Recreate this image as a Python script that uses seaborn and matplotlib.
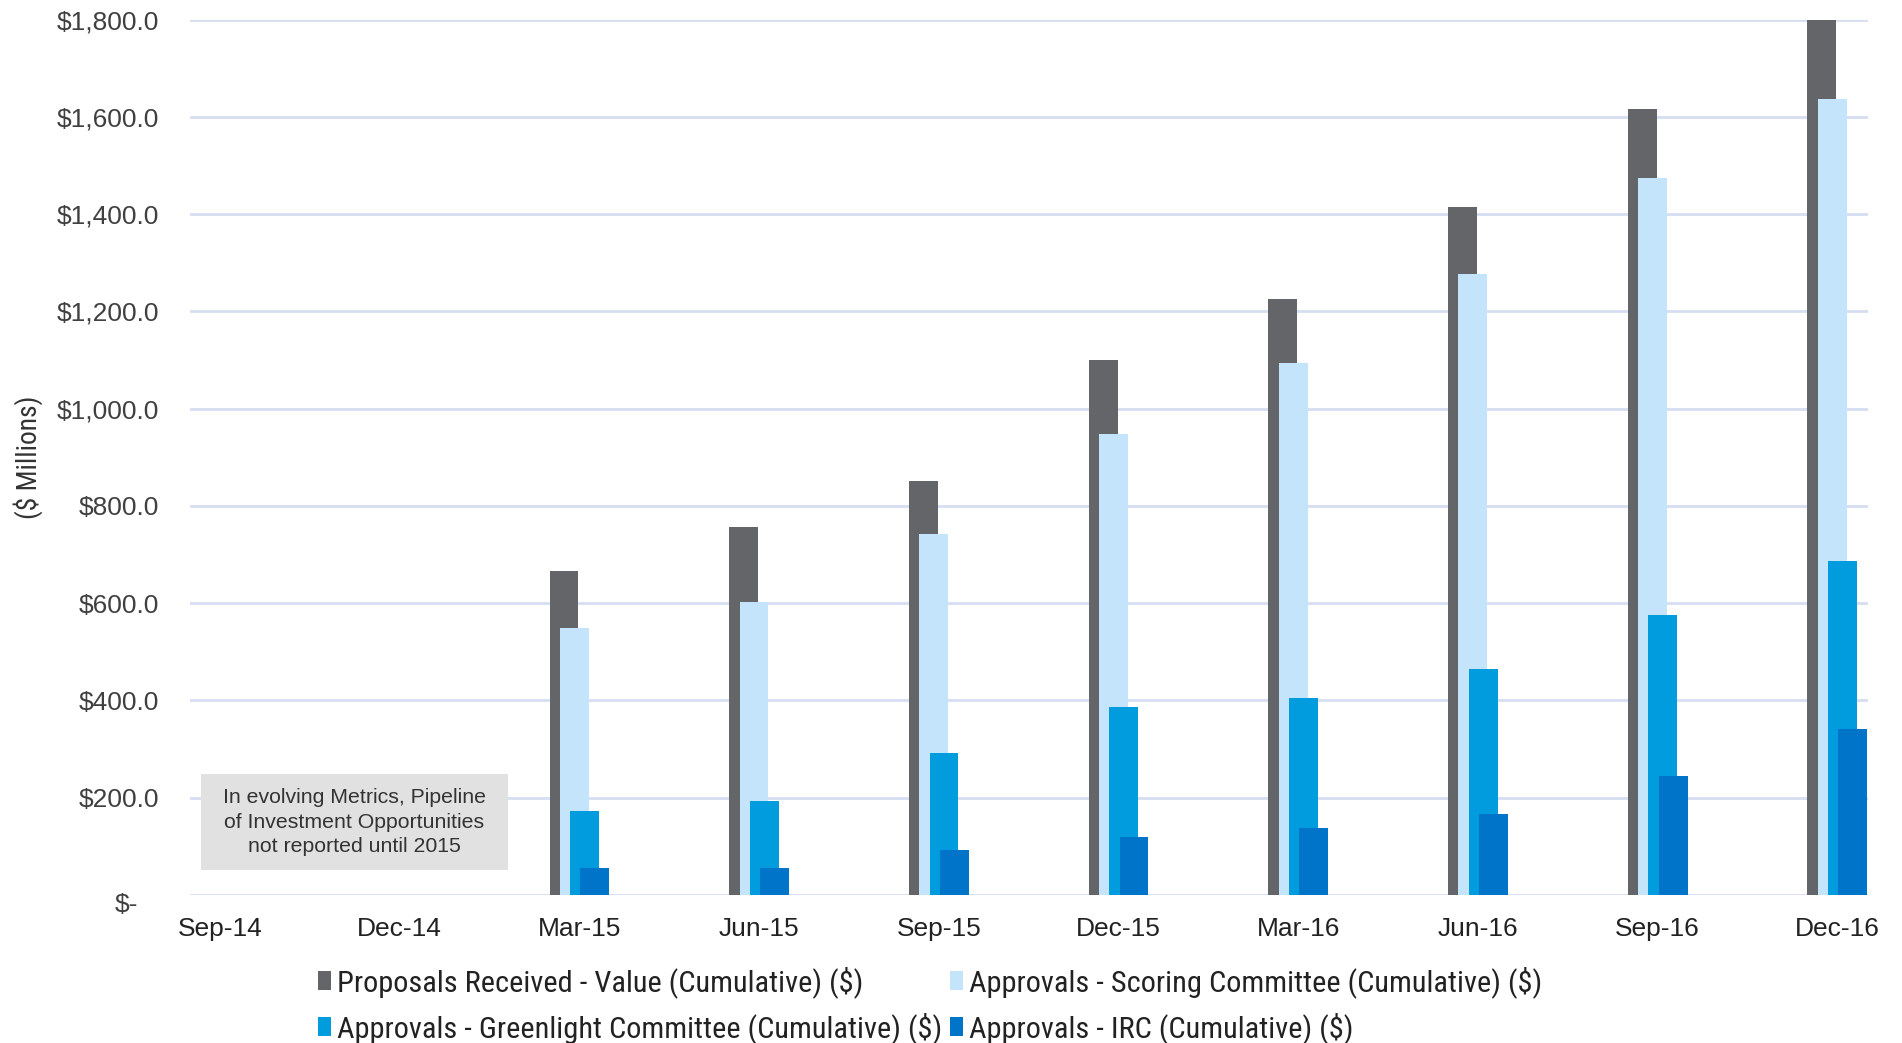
import matplotlib
matplotlib.use("Agg")
import matplotlib.pyplot as plt
import matplotlib.ticker as mticker
from matplotlib import font_manager as fm
from matplotlib.patches import Patch, Rectangle
import numpy as np
import pandas as pd
import seaborn as sns

# Quarter-end reporting dates
quarters = ["Sep-14", "Dec-14", "Mar-15", "Jun-15", "Sep-15",
            "Dec-15", "Mar-16", "Jun-16", "Sep-16", "Dec-16"]
# Pipeline metrics start at Mar-15 (index 2)
reported_idx = [2, 3, 4, 5, 6, 7, 8, 9]

proposals_received = [666, 756, 851, 1100, 1226, 1414, 1615, 1800]
scoring_committee = [549, 603, 743, 947, 1094, 1276, 1474, 1637]
greenlight_committee = [173, 194, 292, 387, 404, 465, 576, 687]
irc_approvals = [56, 56, 92, 120, 137, 167, 244, 342]

series_names = [
    "Proposals Received - Value (Cumulative) ($)",
    "Approvals - Scoring Committee (Cumulative) ($)",
    "Approvals - Greenlight Committee (Cumulative) ($)",
    "Approvals - IRC (Cumulative) ($)",
]
series_values = [proposals_received, scoring_committee,
                 greenlight_committee, irc_approvals]
series_colors = ["#636569", "#C4E4FC", "#009CDE", "#0074C8"]

y_ticks = [0, 200, 400, 600, 800, 1000, 1200, 1400, 1600, 1800]

note_text = ("In evolving Metrics, Pipeline\n"
             "of Investment Opportunities\n"
             "not reported until 2015")

sns.set_theme(style="white")
plt.rcParams["font.family"] = ["Liberation Sans", "DejaVu Sans"]

# Pick a narrow sans face for the legend and axis title when one exists
installed = {f.name for f in fm.fontManager.ttflist}
narrow_prop = None
for fam in ["Liberation Sans Narrow", "Arial Narrow", "Roboto Condensed",
            "Open Sans Condensed"]:
    if fam in installed:
        narrow_prop = fm.FontProperties(family=fam)
        break
if narrow_prop is None:
    cond = [f for f in fm.fontManager.ttflist
            if f.stretch in ("condensed", "semi-condensed", 600, 700)
            and f.name in ("Roboto", "Open Sans", "Noto Sans", "Inter")]
    if cond:
        narrow_prop = fm.FontProperties(fname=cond[0].fname)
    else:
        narrow_prop = fm.FontProperties(family="Liberation Sans")

fig = plt.figure(figsize=(19.02, 10.43), dpi=100)
ax = fig.add_axes([0.0999, 0.1419, 0.8822, 0.8394])

bar_w = 0.161
step = 0.0573
offsets = [-1.5 * step, -0.5 * step, 0.5 * step, 1.5 * step]

for name, vals, col, off in zip(series_names, series_values, series_colors, offsets):
    df = pd.DataFrame({"pos": np.array(reported_idx, dtype=float) + off,
                       "value": vals})
    sns.barplot(data=df, x="pos", y="value", native_scale=True, width=bar_w,
                color=col, saturation=1, errorbar=None, linewidth=0,
                ax=ax, zorder=3)

ax.set_xlim(-0.167, 9.17)
ax.set_ylim(0, 1800)
ax.set_xticks(range(len(quarters)))
ax.set_xticklabels(quarters)
ax.set_yticks(y_ticks)


def money(v, _pos):
    if abs(v) < 1e-9:
        return ""
    return f"${v:,.1f}"


ax.yaxis.set_major_formatter(mticker.FuncFormatter(money))
ax.tick_params(axis="y", labelsize=19, labelcolor="#404040", length=0, pad=22)
ax.tick_params(axis="x", labelsize=19, labelcolor="#222222", length=0, pad=16)
ax.set_xlabel("")
ax.set_ylabel("")

ax.grid(axis="y", color="#D6DEF2", linewidth=2, zorder=0)
ax.grid(axis="x", visible=False)
for s in ax.spines.values():
    s.set_visible(False)

# Accounting-style zero label
ax.text(-0.031, -21, "$-", transform=ax.get_yaxis_transform(),
        ha="right", va="center", fontsize=19, color="#404040")

ylab = fig.text(0.0145, 0.562, "($ Millions)", rotation=90, ha="center",
                va="center", color="#333333", fontproperties=narrow_prop)
ylab.set_fontsize(20)

# Note about the reporting start
ax.add_patch(Rectangle((-0.106, 51), 1.706, 197, facecolor="#E1E1E1",
                       edgecolor="none", zorder=2))
ax.text(0.747, 150, note_text, ha="center", va="center", fontsize=15.3,
        color="#333333", linespacing=1.36, zorder=4)

handles = [Patch(facecolor=c, edgecolor="none") for c in series_colors]
order = [0, 2, 1, 3]
leg_prop = narrow_prop.copy()
leg_prop.set_size(22)
leg = fig.legend([handles[i] for i in order], [series_names[i] for i in order],
                 ncol=2, loc="center left", bbox_to_anchor=(0.1672, 0.0362),
                 frameon=False, handlelength=0.42, handleheight=0.6,
                 handletextpad=0.2, columnspacing=0.25, labelspacing=0.45,
                 borderpad=0, borderaxespad=0, prop=leg_prop)
for t in leg.get_texts():
    t.set_color("#222222")

# Scale the legend text so the first entry spans its intended width
fig.canvas.draw()
r = fig.canvas.get_renderer()
w = leg.get_texts()[0].get_window_extent(r).width
scale = 526.0 / w
for t in leg.get_texts():
    t.set_fontsize(22 * scale)
ylab.set_fontsize(min(20, 20 * scale))

fig.savefig("out.png", dpi=100, facecolor="white")
